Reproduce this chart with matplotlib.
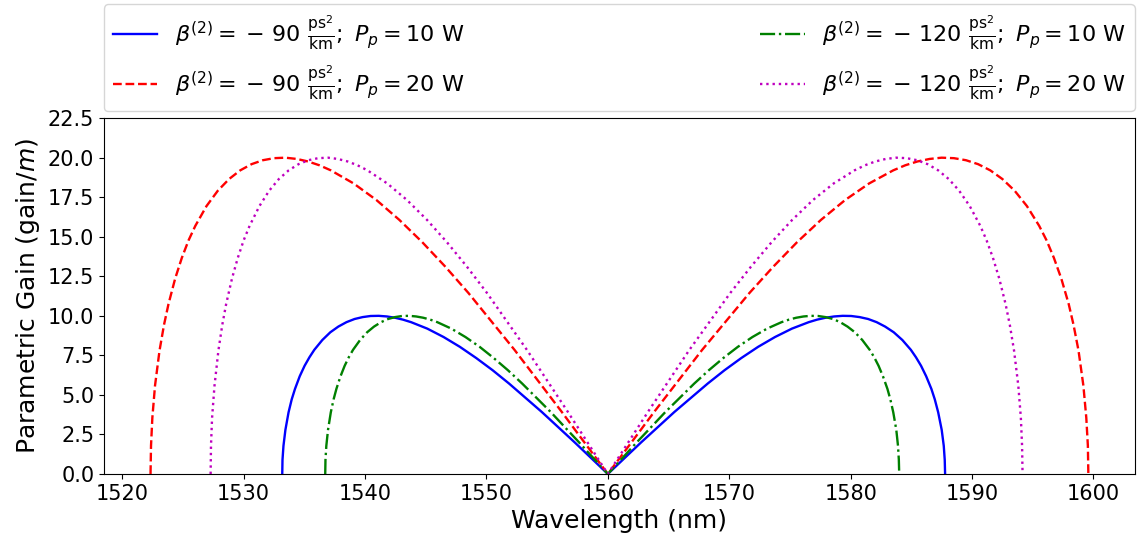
import matplotlib
matplotlib.use('Agg')
import matplotlib.pyplot as plt
from matplotlib.ticker import MultipleLocator

PUMP_WL = 1560.0

# gain (gain/m), from the pump outwards to the edge of the band
gain_10W = [1.99, 3.92, 5.72, 6.56, 7.33, 8.04, 8.66, 9.19, 9.60, 9.76, 9.88,
            9.96, 10.00, 9.99, 9.92, 9.80, 9.60, 9.32, 8.96, 8.47, 7.85, 7.38,
            6.84, 6.18, 5.38, 4.72, 3.90, 2.79, 1.78, 0.89, 0]
gain_20W = [3.98, 7.84, 11.45, 13.11, 14.66, 16.07, 17.32, 18.37, 19.20, 19.52,
            19.76, 19.92, 20.00, 19.97, 19.84, 19.59, 19.20, 18.65, 17.91, 16.94,
            15.69, 14.77, 13.67, 12.36, 10.75, 9.43, 7.80, 5.59, 3.56, 1.79, 0]

# wavelengths (nm) matching the gain lists: short side / long side of the pump
# beta2 = -90 ps^2/km, Pp = 10 W
wl_90_10_short = [1557.28, 1554.56, 1551.86, 1550.51, 1549.16, 1547.81, 1546.47,
                  1545.13, 1543.79, 1543.12, 1542.46, 1541.80, 1541.13, 1540.46,
                  1539.80, 1539.14, 1538.47, 1537.80, 1537.14, 1536.48, 1535.82,
                  1535.42, 1535.02, 1534.62, 1534.23, 1533.96, 1533.70, 1533.44,
                  1533.28, 1533.20, 1533.18]
wl_90_10_long = [1562.73, 1565.48, 1568.23, 1569.61, 1570.99, 1572.38, 1573.77,
                 1575.16, 1576.55, 1577.24, 1577.94, 1578.64, 1579.34, 1580.04,
                 1580.74, 1581.44, 1582.14, 1582.84, 1583.55, 1584.26, 1584.96,
                 1585.38, 1585.80, 1586.22, 1586.65, 1586.93, 1587.21, 1587.50,
                 1587.67, 1587.75, 1587.78]
# beta2 = -90, Pp = 20 W
wl_90_20_short = [1556.15, 1552.32, 1548.51, 1546.61, 1544.71, 1542.82, 1540.94,
                  1539.06, 1537.18, 1536.24, 1535.31, 1534.38, 1533.44, 1532.51,
                  1531.58, 1530.65, 1529.72, 1528.80, 1527.87, 1526.94, 1526.02,
                  1525.46, 1524.91, 1524.36, 1523.81, 1523.44, 1523.07, 1522.70,
                  1522.48, 1522.37, 1522.33]
wl_90_20_long = [1563.87, 1567.76, 1571.67, 1573.63, 1575.59, 1577.56, 1579.54,
                 1581.52, 1583.51, 1584.50, 1585.50, 1586.50, 1587.49, 1588.50,
                 1589.50, 1590.50, 1591.50, 1592.50, 1593.51, 1594.52, 1595.53,
                 1596.14, 1596.74, 1597.35, 1597.96, 1598.36, 1598.77, 1599.17,
                 1599.41, 1599.54, 1599.58]
# beta2 = -120, Pp = 10 W
wl_120_10_short = [1557.64, 1555.29, 1552.94, 1551.77, 1550.60, 1549.44, 1548.27,
                   1547.11, 1545.95, 1545.37, 1544.79, 1544.21, 1543.63, 1543.05,
                   1542.47, 1541.90, 1541.32, 1540.74, 1540.17, 1539.59, 1539.01,
                   1538.66, 1538.32, 1537.98, 1537.64, 1537.41, 1537.18, 1536.95,
                   1536.81, 1536.74, 1536.72]
wl_120_10_long = [1562.37, 1564.74, 1567.12, 1568.32, 1569.51, 1570.71, 1571.91,
                  1573.11, 1574.31, 1574.92, 1575.52, 1576.12, 1576.72, 1577.32,
                  1577.93, 1578.54, 1579.14, 1579.74, 1580.35, 1580.96, 1581.57,
                  1581.94, 1582.30, 1582.66, 1583.03, 1583.27, 1583.51, 1583.76,
                  1583.90, 1583.97, 1584.00]
# beta2 = -120, Pp = 20 W
wl_120_20_short = [1556.66, 1553.34, 1550.04, 1548.39, 1546.74, 1545.10, 1543.46,
                   1541.83, 1540.20, 1539.38, 1538.57, 1537.76, 1536.95, 1536.14,
                   1535.33, 1534.52, 1533.71, 1532.90, 1532.10, 1531.30, 1530.49,
                   1530.00, 1529.52, 1529.04, 1528.56, 1528.24, 1527.92, 1527.60,
                   1527.40, 1527.31, 1527.28]
wl_120_20_long = [1563.35, 1566.71, 1570.09, 1571.79, 1573.49, 1575.19, 1576.89,
                  1578.60, 1580.32, 1581.18, 1582.03, 1582.89, 1583.75, 1584.62,
                  1585.48, 1586.34, 1587.21, 1588.08, 1588.94, 1589.81, 1590.68,
                  1591.20, 1591.72, 1592.24, 1592.76, 1593.11, 1593.46, 1593.81,
                  1594.02, 1594.12, 1594.16]

frac = r'\frac{\mathrm{ps}^2}{\mathrm{km}}'
labels = [r'$\beta^{(2)} = {}-\,90\ ' + frac + r';\ P_p = 10$ W',
          r'$\beta^{(2)} = {}-\,90\ ' + frac + r';\ P_p = 20$ W',
          r'$\beta^{(2)} = {}-\,120\ ' + frac + r';\ P_p = 10$ W',
          r'$\beta^{(2)} = {}-\,120\ ' + frac + r';\ P_p = 20$ W']


def full_curve(short, long, gain):
    wl = short[::-1] + [PUMP_WL] + long
    g = gain[::-1] + [0] + gain
    return wl, g


def main():
    fig, ax = plt.subplots(figsize=(11.37, 5.47), dpi=100)
    fig.subplots_adjust(left=0.0915, right=0.998, bottom=0.1335, top=0.784)

    lw = 1.7
    ax.plot(*full_curve(wl_90_10_short, wl_90_10_long, gain_10W),
            'b-', lw=lw, label=labels[0])
    ax.plot(*full_curve(wl_90_20_short, wl_90_20_long, gain_20W),
            'r--', lw=lw, label=labels[1])
    ax.plot(*full_curve(wl_120_10_short, wl_120_10_long, gain_10W),
            'g-.', lw=lw, label=labels[2])
    ax.plot(*full_curve(wl_120_20_short, wl_120_20_long, gain_20W),
            'm:', lw=lw, label=labels[3])

    ax.set_xlim(1518.5, 1603.4)
    ax.set_ylim(0, 22.5)
    ax.yaxis.set_major_locator(MultipleLocator(2.5))
    ax.set_xlabel('Wavelength (nm)', fontsize=18)
    ax.set_ylabel('Parametric Gain (gain/$m$)', fontsize=18)
    ax.tick_params(labelsize=15)

    ax.legend(bbox_to_anchor=(0, 1.02, 1, 0.2), loc='lower left',
              mode='expand', ncol=2, fontsize=16, borderaxespad=0)

    plt.savefig('out.png')


if __name__ == '__main__':
    main()
